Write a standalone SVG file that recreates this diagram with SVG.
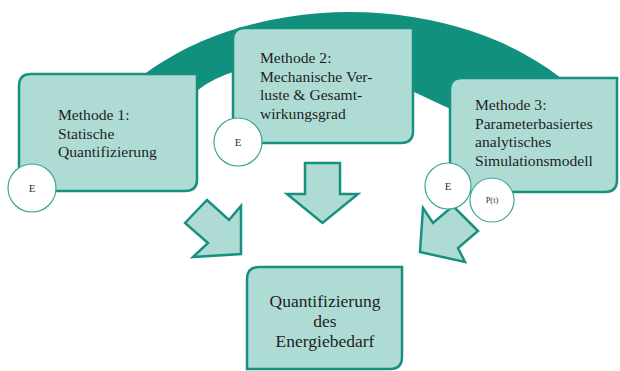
<svg xmlns="http://www.w3.org/2000/svg" width="620" height="371" viewBox="0 0 620 371">
  <style>
    .box { fill: #aedcd5; stroke: #17917f; stroke-width: 2.5; }
    .arrow { fill: #aedcd5; stroke: #17917f; stroke-width: 2.5; stroke-linejoin: miter; }
    .circ { fill: #ffffff; stroke: #3fa597; stroke-width: 1.2; }
    text { font-family: 'Liberation Serif', 'DejaVu Serif', serif; fill: #1e1e1e; }
    .t { font-size: 15.6px; }
    .tb { font-size: 17.5px; text-anchor: middle; }
    .ce { font-size: 11px; fill: #333333; text-anchor: middle; }
    .cp { font-size: 8.5px; fill: #333333; text-anchor: middle; }
  </style>
  <rect width="620" height="371" fill="#ffffff"/>
  <g id="band">
    <path d="M 131,85 A 277 188 0 0 1 569,85 L 462,114 C 398,86 360,62 320,62 C 255,60 210,75 190,98 Z" fill="#12907e"/>
  </g>
  <g id="connectors">
    <polygon class="arrow" points="305,163 340,163 340,194 358,194 322.5,223 287,194 305,194"/>
    <polygon class="arrow" points="185,223 207,200 229,220 241,206 241,254 193,257 208,243"/>
    <polygon class="arrow" points="478,231 453,206 433,223 423,208 420,252 465,262 458,248"/>
  </g>
  <g id="method1">
    <path class="box" d="M 31,74 L 197,74 L 197,180 Q 197,191 185,191 L 19,191 L 19,86 Q 19,74 31,74 Z"/>
    <text class="t" x="58" y="120" font-family="Liberation Serif, serif">Methode 1:</text>
    <text class="t" x="58" y="138.5" font-family="Liberation Serif, serif">Statische</text>
    <text class="t" x="58" y="157" font-family="Liberation Serif, serif">Quantifizierung</text>
    <circle class="circ" cx="32" cy="188" r="24"/>
    <text class="ce" x="32" y="192" font-family="Liberation Serif, serif">E</text>
  </g>
  <g id="method2">
    <path class="box" d="M 245,28 L 413,28 L 413,131 Q 413,143 401,143 L 233,143 L 233,40 Q 233,28 245,28 Z"/>
    <text class="t" x="260" y="63" font-family="Liberation Serif, serif">Methode 2:</text>
    <text class="t" x="260" y="81.5" font-family="Liberation Serif, serif">Mechanische Ver-</text>
    <text class="t" x="260" y="100" font-family="Liberation Serif, serif">luste &amp; Gesamt-</text>
    <text class="t" x="260" y="118.5" font-family="Liberation Serif, serif">wirkungsgrad</text>
    <circle class="circ" cx="238" cy="142" r="24"/>
    <text class="ce" x="238" y="146" font-family="Liberation Serif, serif">E</text>
  </g>
  <g id="method3">
    <path class="box" d="M 462,78 L 617,78 L 617,180 Q 617,192 605,192 L 450,192 L 450,90 Q 450,78 462,78 Z"/>
    <text class="t" x="475" y="110" font-family="Liberation Serif, serif">Methode 3:</text>
    <text class="t" x="475" y="128.5" font-family="Liberation Serif, serif">Parameterbasiertes</text>
    <text class="t" x="475" y="147" font-family="Liberation Serif, serif">analytisches</text>
    <text class="t" x="475" y="165.5" font-family="Liberation Serif, serif">Simulationsmodell</text>
    <circle class="circ" cx="448" cy="186" r="23"/>
    <text class="ce" x="448" y="190" font-family="Liberation Serif, serif">E</text>
    <circle class="circ" cx="492" cy="200" r="22"/>
    <text class="cp" x="492" y="203" font-family="Liberation Serif, serif">P(t)</text>
  </g>
  <g id="result">
    <path class="box" d="M 259,267 L 402,267 L 402,357 Q 402,369 390,369 L 247,369 L 247,279 Q 247,267 259,267 Z"/>
    <text class="tb" x="325" y="307" font-family="Liberation Serif, serif">Quantifizierung</text>
    <text class="tb" x="325" y="327" font-family="Liberation Serif, serif">des</text>
    <text class="tb" x="325" y="347" font-family="Liberation Serif, serif">Energiebedarf</text>
  </g>
</svg>
